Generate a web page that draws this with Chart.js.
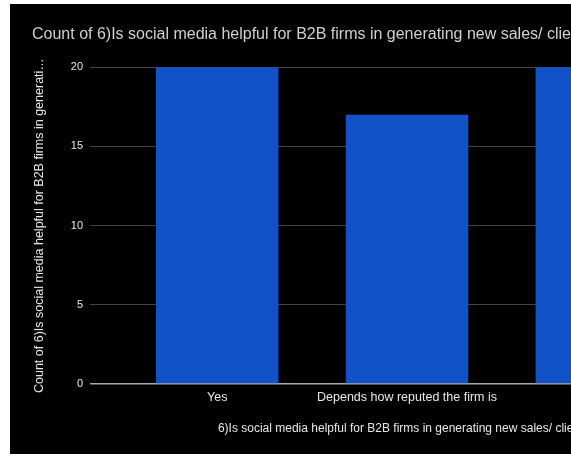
<!DOCTYPE html>
<html>
<head>
<meta charset="utf-8">
<script src="https://cdn.jsdelivr.net/npm/chart.js@4.4.1/dist/chart.umd.min.js"></script>
<style>
  html, body { margin: 0; padding: 0; background: #fff; overflow: hidden; }
  #wrap { position: absolute; left: 10px; top: 4px; width: 750px; height: 450px; background: #000; }
</style>
</head>
<body>
<div id="wrap"><canvas id="chart" width="750" height="450"></canvas></div>
<script>
// answers to question 6 and how many picked each
const categories = ["Yes", "Depends how reputed the firm is", "No"];
const counts = [20, 17, 20];
const yTicks = [0, 5, 10, 15, 20];

const chartTitle = "Count of 6)Is social media helpful for B2B firms in generating new sales/ clients?";
const xTitle = "6)Is social media helpful for B2B firms in generating new sales/ clients?";
const yTitle = "Count of 6)Is social media helpful for B2B firms in generati\u2026";

// paint the canvas black first
const blackBg = {
    id: 'blackBg',
    beforeDraw(chart) {
        const c = chart.ctx;
        c.save();
        c.fillStyle = '#000';
        c.fillRect(0, 0, chart.width, chart.height);
        c.restore();
    }
};

const font = 'Liberation Sans, Arial, sans-serif';

new Chart(document.getElementById('chart'), {
    type: 'bar',
    data: {
        datasets: [{
            data: categories.map((c, i) => ({ x: i, y: counts[i] })),
            backgroundColor: '#1152c8',
            borderWidth: 0,
            categoryPercentage: 1,
            barPercentage: 0.645
        }]
    },
    options: {
        responsive: false,
        animation: false,
        layout: { padding: { left: 22, right: 36, top: 0, bottom: 12 } },
        plugins: {
            legend: { display: false },
            tooltip: { enabled: false },
            title: {
                display: true,
                text: chartTitle,
                align: 'start',
                color: '#cfcfcf',
                font: { family: font, size: 16, weight: 'normal' },
                padding: { top: 21, bottom: 23 }
            }
        },
        scales: {
            x: {
                type: 'linear',
                offset: false,
                min: -0.67,
                max: 2.67,
                afterBuildTicks: (s) => { s.ticks = categories.map((c, i) => ({ value: i })); },
                afterFit: (s) => { s.height = 58; },
                grid: { display: false, drawTicks: false },
                border: { display: false },
                ticks: {
                    autoSkip: false,
                    maxRotation: 0,
                    padding: 6,
                    color: '#e6e6e6',
                    font: { family: font, size: 12.5 },
                    callback: (v) => categories[v]
                },
                title: {
                    display: true,
                    text: xTitle,
                    color: '#e6e6e6',
                    font: { family: font, size: 12 },
                    padding: { top: 0, bottom: 6 }
                }
            },
            y: {
                min: 0,
                max: 20,
                afterBuildTicks: (s) => { s.ticks = yTicks.map(v => ({ value: v })); },
                afterFit: (s) => { s.width = 58; },
                grid: {
                    drawTicks: false,
                    color: (ctx) => ctx.tick && ctx.tick.value === 0 ? '#a8a8a8' : '#444',
                    lineWidth: (ctx) => ctx.tick && ctx.tick.value === 0 ? 1.5 : 1
                },
                border: { display: false },
                ticks: {
                    padding: 7,
                    color: '#e6e6e6',
                    font: { family: font, size: 11 }
                },
                title: {
                    display: true,
                    text: yTitle,
                    color: '#e6e6e6',
                    font: { family: font, size: 12.5 },
                    padding: { top: 0, bottom: 0 }
                }
            }
        }
    },
    plugins: [blackBg]
});
</script>
</body>
</html>
